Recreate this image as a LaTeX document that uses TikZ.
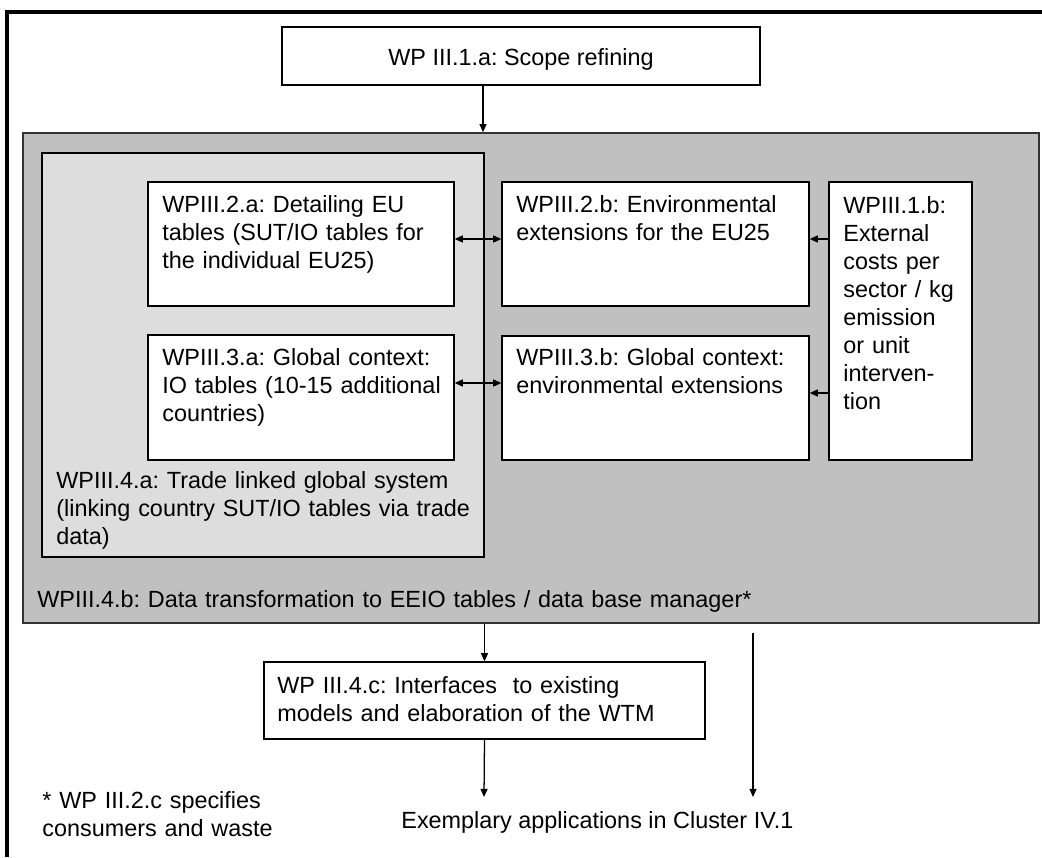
\documentclass[tikz,border=0pt]{standalone}
\usepackage{fontspec}
\setmainfont{Liberation Sans}
\usetikzlibrary{arrows.meta,fit,calc}
\definecolor{midgray}{HTML}{C0C0C0}
\definecolor{lightgray}{HTML}{DDDDDD}
\definecolor{edgegray}{HTML}{333333}
\frenchspacing
\begin{document}
\begin{tikzpicture}[x=0.5128pt,y=-0.5128pt,
  box/.style={draw=black, line width=0.65pt, fill=white, inner sep=0pt},
  txt/.style={anchor=north west, inner sep=0pt, align=left, text width=480pt,
    font=\fontsize{12}{14.36}\selectfont\frenchspacing},
  ctxt/.style={inner sep=0pt, font=\fontsize{12}{14.36}\selectfont\frenchspacing},
  arr/.style={line width=0.65pt, -{Triangle[length=4.2pt,width=3.6pt]}},
  darr/.style={line width=0.65pt, {Triangle[length=4.2pt,width=3.6pt]}-{Triangle[length=4.2pt,width=3.6pt]}}]
\useasboundingbox (0,0) rectangle (1042,857);
% outer frame (clipped)
\draw[line width=1.6pt] (7,857) -- (7,12) -- (1042,12);
% main grey area
\node[draw=edgegray, line width=0.8pt, fill=midgray, inner sep=0pt, fit={(23,133)(1039,623)}] (g) {};
\node[draw=black, line width=0.65pt, fill=lightgray, inner sep=0pt, fit={(42,153)(484,557)}] (lg) {};
% boxes
\node[box, fit={(282,27)(760,85)}] (b11a) {};
\node[box, fit={(148,182)(454,306)}] (b2a) {};
\node[box, fit={(502,182)(809,306)}] (b2b) {};
\node[box, fit={(829,182)(972,460)}] (b1b) {};
\node[box, fit={(148,335)(454,460)}] (b3a) {};
\node[box, fit={(502,336)(809,460)}] (b3b) {};
\node[box, fit={(264,662)(705,739)}] (b4c) {};
% texts
\node[ctxt, anchor=base] (t11a) at (521,65) {WP III.1.a: Scope refining};
\node[txt] (t2a) at (162,192.4) {\strut WPIII.2.a: Detailing EU\\tables (SUT/IO tables for\\the individual EU25)};
\node[txt] (t2b) at (516,192.4) {\strut WPIII.2.b: Environmental\\extensions for the EU25};
\node[txt] (t1b) at (843,193.4) {\strut WPIII.1.b:\\External\\costs per\\sector / kg\\emission\\or unit\\interven-\\tion};
\node[txt] (t3a) at (162,345.4) {\strut WPIII.3.a: Global context:\\IO tables (10-15 additional\\countries)};
\node[txt] (t3b) at (516,345.4) {\strut WPIII.3.b: Global context:\\environmental extensions};
\node[txt] (t4a) at (56,468.4) {\strut WPIII.4.a: Trade linked global system\\(linking country SUT/IO tables via trade\\data)};
\node[txt] (t4b) at (37,587.4) {\strut WPIII.4.b: Data transformation to EEIO tables / data base manager*};
\node[txt] (t4c) at (277,673.4) {\strut WP III.4.c: Interfaces\ \ to existing\\models and elaboration of the WTM};
\node[txt] (tfoot) at (42,788.4) {\strut * WP III.2.c specifies\\consumers and waste};
\node[ctxt, anchor=base west] (tex) at (401,828) {Exemplary applications in Cluster IV.1};
% helper coordinates
\coordinate (ax) at (483,0);
\coordinate (r1) at (0,239);
\coordinate (r2) at (0,383);
\coordinate (r3) at (0,393);
\coordinate (e1) at (484,797);
\coordinate (s2) at (753,633);
\coordinate (e2) at (753,797);
% connectors
\draw[arr] (b11a.south -| ax) -- (g.north -| ax);
\draw[darr] (b2a.east |- r1) -- (b2b.west |- r1);
\draw[arr] (b1b.west |- r1) -- (b2b.east |- r1);
\draw[darr] (b3a.east |- r2) -- (b3b.west |- r2);
\draw[arr] (b1b.west |- r3) -- (b3b.east |- r3);
\draw[arr] (g.south -| b4c.north) -- (b4c.north);
\draw[arr] (b4c.south) -- (e1);
\draw[arr] (s2) -- (e2);
\end{tikzpicture}
\end{document}
